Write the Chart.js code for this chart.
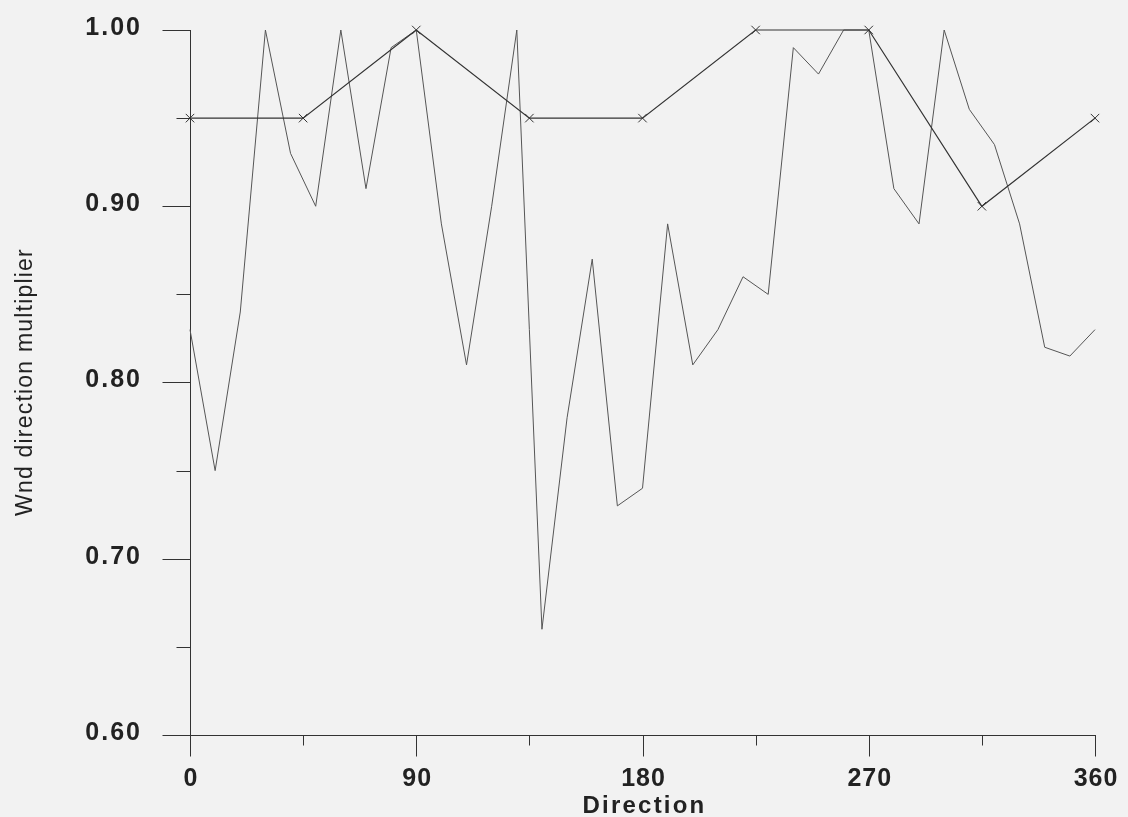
<!DOCTYPE html>
<html>
<head>
<meta charset="utf-8">
<title>Wind direction multiplier</title>
<script src="https://cdn.jsdelivr.net/npm/chart.js@4.4.1/dist/chart.umd.min.js"></script>
<style>
  html, body { margin: 0; padding: 0; background: #f2f2f2; }
  #wrap { width: 1128px; height: 817px; }
</style>
</head>
<body>
<div id="wrap"><canvas id="windChart" width="1128" height="817"></canvas></div>
<script>
// Directions (degrees) and multipliers
const directions10 = [0, 10, 20, 30, 40, 50, 60, 70, 80, 90, 100, 110, 120, 130, 140, 150, 160, 170, 180,
    190, 200, 210, 220, 230, 240, 250, 260, 270, 280, 290, 300, 310, 320, 330, 340, 350, 360];
const measured = [0.83, 0.75, 0.84, 1.00, 0.93, 0.90, 1.00, 0.91, 0.99, 1.00, 0.89, 0.81, 0.90, 1.00, 0.66,
    0.78, 0.87, 0.73, 0.74, 0.89, 0.81, 0.83, 0.86, 0.85, 0.99, 0.975, 1.00, 1.00, 0.91, 0.89, 1.00,
    0.955, 0.935, 0.89, 0.82, 0.815, 0.83];

const directions45 = [0, 45, 90, 135, 180, 225, 270, 315, 360];
const sector = [0.95, 0.95, 1.00, 0.95, 0.95, 1.00, 1.00, 0.90, 0.95];

// Axis ticks
const xMajorTicks = [0, 90, 180, 270, 360];
const xTickLabels = ['0', '90', '180', '270', '360'];
const xMinorTicks = [45, 135, 225, 315];
const yMajorTicks = [0.60, 0.70, 0.80, 0.90, 1.00];
const yTickLabels = ['0.60', '0.70', '0.80', '0.90', '1.00'];
const yMinorTicks = [0.65, 0.75, 0.85, 0.95];

const xTitle = 'Direction';
const yTitle = 'Wnd direction multiplier';

function toPoints(xs, ys) {
    return xs.map((x, i) => ({ x: x, y: ys[i] }));
}

// draws tick marks, tick labels and axis titles from the chart's scales
const axisDecor = {
    id: 'axisDecor',
    afterDraw(chart) {
        const { ctx, scales: { x, y } } = chart;
        const x0 = Math.round(x.getPixelForValue(0)) + 0.5;
        const y0 = Math.round(y.getPixelForValue(0.6)) + 0.5;
        ctx.save();
        ctx.strokeStyle = '#333';
        ctx.lineWidth = 1;
        ctx.beginPath();
        yMajorTicks.forEach(v => {
            const py = Math.round(y.getPixelForValue(v)) + 0.5;
            ctx.moveTo(x0 - 28, py); ctx.lineTo(x0, py);
        });
        yMinorTicks.forEach(v => {
            const py = Math.round(y.getPixelForValue(v)) + 0.5;
            ctx.moveTo(x0 - 14, py); ctx.lineTo(x0, py);
        });
        xMajorTicks.forEach(v => {
            const px = Math.round(x.getPixelForValue(v)) + 0.5;
            ctx.moveTo(px, y0); ctx.lineTo(px, y0 + 21);
        });
        xMinorTicks.forEach(v => {
            const px = Math.round(x.getPixelForValue(v)) + 0.5;
            ctx.moveTo(px, y0); ctx.lineTo(px, y0 + 10);
        });
        ctx.stroke();

        ctx.fillStyle = '#222';
        ctx.textBaseline = 'middle';

        // y tick labels
        ctx.font = 'bold 25px "Liberation Sans", Arial, sans-serif';
        ctx.letterSpacing = '2px';
        ctx.textAlign = 'right';
        yMajorTicks.forEach((v, i) => {
            ctx.fillText(yTickLabels[i], 142, y.getPixelForValue(v) - 2);
        });

        // x tick labels
        ctx.letterSpacing = '1px';
        ctx.textAlign = 'center';
        xMajorTicks.forEach((v, i) => {
            ctx.fillText(xTickLabels[i], x.getPixelForValue(v) + 1, 779);
        });

        // x title
        ctx.font = 'bold 24px "Liberation Sans", Arial, sans-serif';
        ctx.letterSpacing = '2.2px';
        ctx.fillText(xTitle, (x.left + x.right) / 2 + 2, 806);

        // y title
        ctx.font = '23px "Liberation Sans", Arial, sans-serif';
        ctx.letterSpacing = '1.2px';
        ctx.translate(26, 382);
        ctx.rotate(-Math.PI / 2);
        ctx.fillText(yTitle, 0, 0);
        ctx.restore();
    }
};

const ctx = document.getElementById('windChart').getContext('2d');

new Chart(ctx, {
    type: 'line',
    data: {
        datasets: [{
            label: 'Sector',
            data: toPoints(directions45, sector),
            borderColor: '#333',
            borderWidth: 1.2,
            pointStyle: 'crossRot',
            pointRadius: 6,
            pointBorderColor: '#333',
            pointBorderWidth: 1,
            tension: 0,
            fill: false,
            clip: false
        }, {
            label: 'Measured',
            data: toPoints(directions10, measured),
            borderColor: '#555',
            borderWidth: 1,
            pointRadius: 0,
            tension: 0,
            fill: false,
            clip: false
        }]
    },
    options: {
        responsive: false,
        animation: false,
        events: [],
        layout: {
            padding: { left: 190, right: 33, top: 30, bottom: 82 }
        },
        plugins: {
            legend: { display: false },
            tooltip: { enabled: false }
        },
        scales: {
            x: {
                type: 'linear',
                min: 0,
                max: 360,
                ticks: { display: false },
                grid: { display: false, drawTicks: false },
                border: { display: true, color: '#333', width: 1 }
            },
            y: {
                min: 0.6,
                max: 1.0,
                ticks: { display: false },
                grid: { display: false, drawTicks: false },
                border: { display: true, color: '#333', width: 1 }
            }
        }
    },
    plugins: [axisDecor]
});
</script>
</body>
</html>
